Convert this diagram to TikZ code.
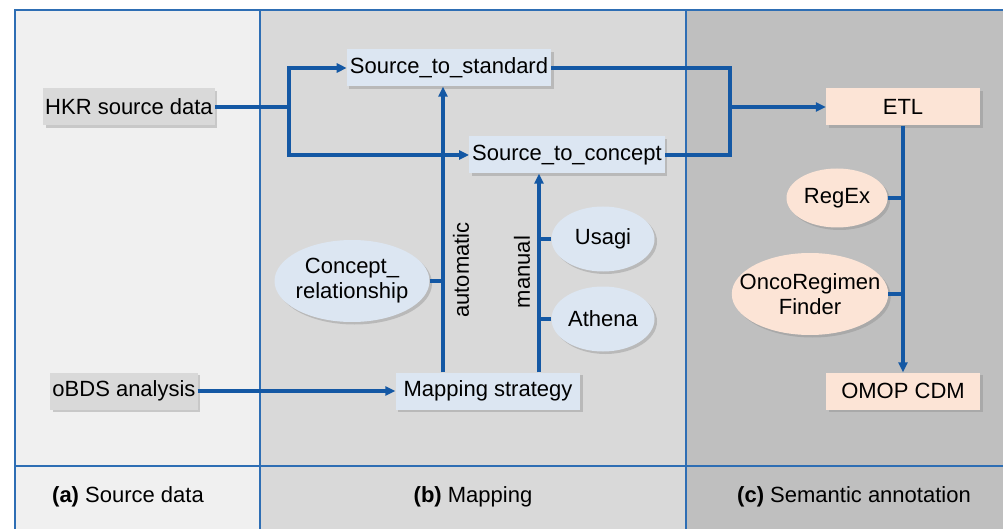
\documentclass[tikz,border=0pt]{standalone}
\usepackage{fontspec}
\setmainfont{Liberation Sans}
\usetikzlibrary{shapes.geometric,arrows.meta,shadows}
\definecolor{flowBlue}{RGB}{20,88,164}
\definecolor{frameBlue}{RGB}{46,110,180}
\definecolor{panelA}{RGB}{240,240,240}
\definecolor{panelB}{RGB}{217,217,217}
\definecolor{panelC}{RGB}{191,191,191}
\definecolor{boxBlue}{RGB}{220,230,242}
\definecolor{boxOrange}{RGB}{252,228,214}
\definecolor{boxGray}{RGB}{217,217,217}
\tikzset{
  softShadow/.style={drop shadow={opacity=0.35,shadow xshift=2.5pt,shadow yshift=-2.5pt}},
  baseBox/.style={
    rectangle,
    softShadow,
    minimum height=37pt,
    inner xsep=3pt,
    font=\fontsize{22}{25}\selectfont
  },
  grayBox/.style={baseBox,fill=boxGray,inner xsep=2pt},
  blueBox/.style={baseBox,fill=boxBlue},
  orangeBox/.style={baseBox,fill=boxOrange,minimum width=154pt},
  blobNode/.style={
    ellipse,
    softShadow,
    inner sep=0pt,
    align=center,
    font=\fontsize{22}{25}\selectfont
  },
  blueBlob/.style={blobNode,fill=boxBlue},
  orangeBlob/.style={blobNode,fill=boxOrange},
  flow/.style={draw=flowBlue,line width=3.2pt},
  flowArrow/.style={flow,-{Triangle[length=10pt,width=9pt]}},
  frameLine/.style={draw=frameBlue,line width=1.6pt},
  panelLabel/.style={font=\fontsize{22}{25}\selectfont},
  sideLabel/.style={rotate=90,font=\fontsize{22}{25}\selectfont}
}

\begin{document}
\begin{tikzpicture}[x=1pt,y=-1pt]
  \useasboundingbox (0,0) rectangle (1003,529);

  % panels
  \fill[panelA] (15,10) rectangle (260,529);
  \fill[panelB] (260,10) rectangle (686,529);
  \fill[panelC] (686,10) rectangle (1003,529);
  \draw[frameLine] (15,529) -- (15,10) -- (1003,10);
  \draw[frameLine] (260,10) -- (260,529);
  \draw[frameLine] (686,10) -- (686,529);
  \draw[frameLine] (15,466) -- (1003,466);

  % (a) source data
  \node[grayBox] (hkr) at (129,107) {HKR source data};
  \node[grayBox] (obds) at (124,391) {oBDS analysis};

  % (b) mapping
  \node[blueBox] (s2std) at (449,68) {Source\_to\_standard};
  \node[blueBox] (s2con) at (567,155) {Source\_to\_concept};
  \node[blueBox,inner xsep=8pt] (map) at (488,391) {Mapping strategy};
  \node[blueBlob,inner xsep=-3pt,minimum width=155pt,minimum height=82pt] (conrel) at (352,281) {Concept\_\\relationship};
  \node[blueBlob,minimum width=103pt,minimum height=65pt] (usagi) at (603,239) {Usagi};
  \node[blueBlob,minimum width=103pt,minimum height=65pt] (athena) at (603,319) {Athena};
  \coordinate (split) at (289,107);
  \coordinate (auto) at (443,0);
  \coordinate (manual) at (539,0);
  \node[sideLabel] (autoText) at (461,270) {automatic};
  \node[sideLabel] (manualText) at (522,272) {manual};

  % (c) semantic annotation
  \node[orangeBox] (etl) at (903,107) {ETL};
  \node[orangeBox] (omop) at (903,391) {OMOP CDM};
  \node[orangeBlob,minimum width=101pt,minimum height=59pt] (regex) at (837,198) {RegEx};
  \node[orangeBlob,inner xsep=-15pt,minimum width=155pt,minimum height=82pt] (onco) at (810,294) {OncoRegimen\\Finder};
  \coordinate (merge) at (730,155);

  % connectors
  \draw[flow] (hkr.east) -- (split);
  \draw[flowArrow] (split) |- (s2std.west);
  \draw[flowArrow] (split) |- (s2con.west);
  \draw[flowArrow] (obds.east) -- (map.west);
  \draw[flowArrow] (map.north -| auto) -- (s2std.south -| auto);
  \draw[flowArrow] (map.north -| manual) -- (s2con.south -| manual);
  \draw[flow] (conrel.east) -- (conrel.east -| auto);
  \draw[flow] (usagi.west) -- (usagi.west -| manual);
  \draw[flow] (athena.west) -- (athena.west -| manual);
  \draw[flow] (s2std.east) -| (merge) -- (s2con.east);
  \draw[flowArrow] (merge |- etl.west) -- (etl.west);
  \draw[flowArrow] (etl.south) -- (omop.north);
  \draw[flow] (regex.east) -- (regex.east -| etl);
  \draw[flow] (onco.east) -- (onco.east -| etl);

  % panel captions
  \node[panelLabel] (capA) at (128,497) {\textbf{(a)} Source data};
  \node[panelLabel] (capB) at (473,497) {\textbf{(b)} Mapping};
  \node[panelLabel] (capC) at (854,497) {\textbf{(c)} Semantic annotation};
\end{tikzpicture}
\end{document}
